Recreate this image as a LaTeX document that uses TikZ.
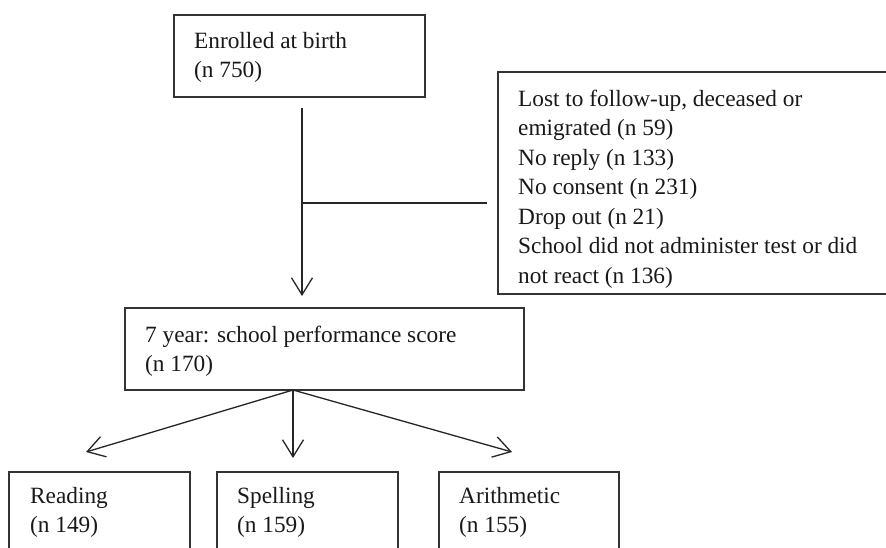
\documentclass[tikz,border=0pt]{standalone}
\usepackage{fontspec}
\setmainfont{Liberation Serif}
\usetikzlibrary{arrows.meta}
\begin{document}
\begin{tikzpicture}[x=1pt,y=-1pt,
  boxline/.style={draw=black!80, line width=1.1pt, inner sep=0pt, outer sep=0pt, anchor=north west},
  openbox/.style={inner sep=0pt, outer sep=0pt, anchor=north west},
  edge/.style={draw=black!80, line width=1.1pt},
  txt/.style={anchor=north west, inner sep=0pt, align=left, text=black!90, font=\fontsize{23.3}{29.5}\selectfont},
  conn/.style={draw=black!85, line width=1.3pt},
  arr/.style={conn, -{Straight Barb[length=17pt,width=21pt,line width=1.3pt]}}]
\useasboundingbox (0,0) rectangle (886,548);
\fill[white] (0,0) rectangle (886,548);
% boxes
\node[boxline, minimum width=251pt, minimum height=82pt] (top) at (174,15) {};
\node[openbox, minimum width=388pt, minimum height=222pt] (excl) at (498,72) {};
\draw[edge] (excl.north east) -- (excl.north west) -- (excl.south west) -- (excl.south east);
\node[boxline, minimum width=399pt, minimum height=82pt] (mid) at (125,308) {};
\node[openbox, minimum width=181pt, minimum height=76pt] (read) at (9,472) {};
\node[openbox, minimum width=181pt, minimum height=76pt] (spell) at (217,472) {};
\node[openbox, minimum width=180pt, minimum height=76pt] (arith) at (439,472) {};
\draw[edge] (read.south west) -- (read.north west) -- (read.north east) -- (read.south east);
\draw[edge] (spell.south west) -- (spell.north west) -- (spell.north east) -- (spell.south east);
\draw[edge] (arith.south west) -- (arith.north west) -- (arith.north east) -- (arith.south east);
% texts
\node[txt] (toptxt) at (194,27.35) {\strut Enrolled at birth\\(n 750)};
\node[txt] (excltxt) at (518,85.35) {\strut Lost to follow-up, deceased or\\emigrated (n 59)\\No reply (n 133)\\No consent (n 231)\\Drop out (n 21)\\School did not administer test or did\\not react (n 136)};
\node[txt] (midtxt) at (145,321.35) {\strut 7 year: school performance score\\(n 170)};
\node[txt] (readtxt) at (30,482.35) {\strut Reading\\(n 149)};
\node[txt] (spelltxt) at (237,482.35) {\strut Spelling\\(n 159)};
\node[txt] (arithtxt) at (459,482.35) {\strut Arithmetic\\(n 155)};
% connectors
\coordinate (vstart) at (302,108);
\coordinate (vend) at (302,296);
\coordinate (branch) at (302,203);
\coordinate (bend) at (487,203);
\coordinate (fork) at (293,390);
\coordinate (readend) at (86,452);
\coordinate (spellend) at (293,458);
\coordinate (arithend) at (512,452);
\draw[arr] (vstart) -- (vend);
\draw[conn] (branch) -- (bend);
\draw[arr] (fork) -- (readend);
\draw[arr] (fork) -- (spellend);
\draw[arr] (fork) -- (arithend);
\end{tikzpicture}
\end{document}
